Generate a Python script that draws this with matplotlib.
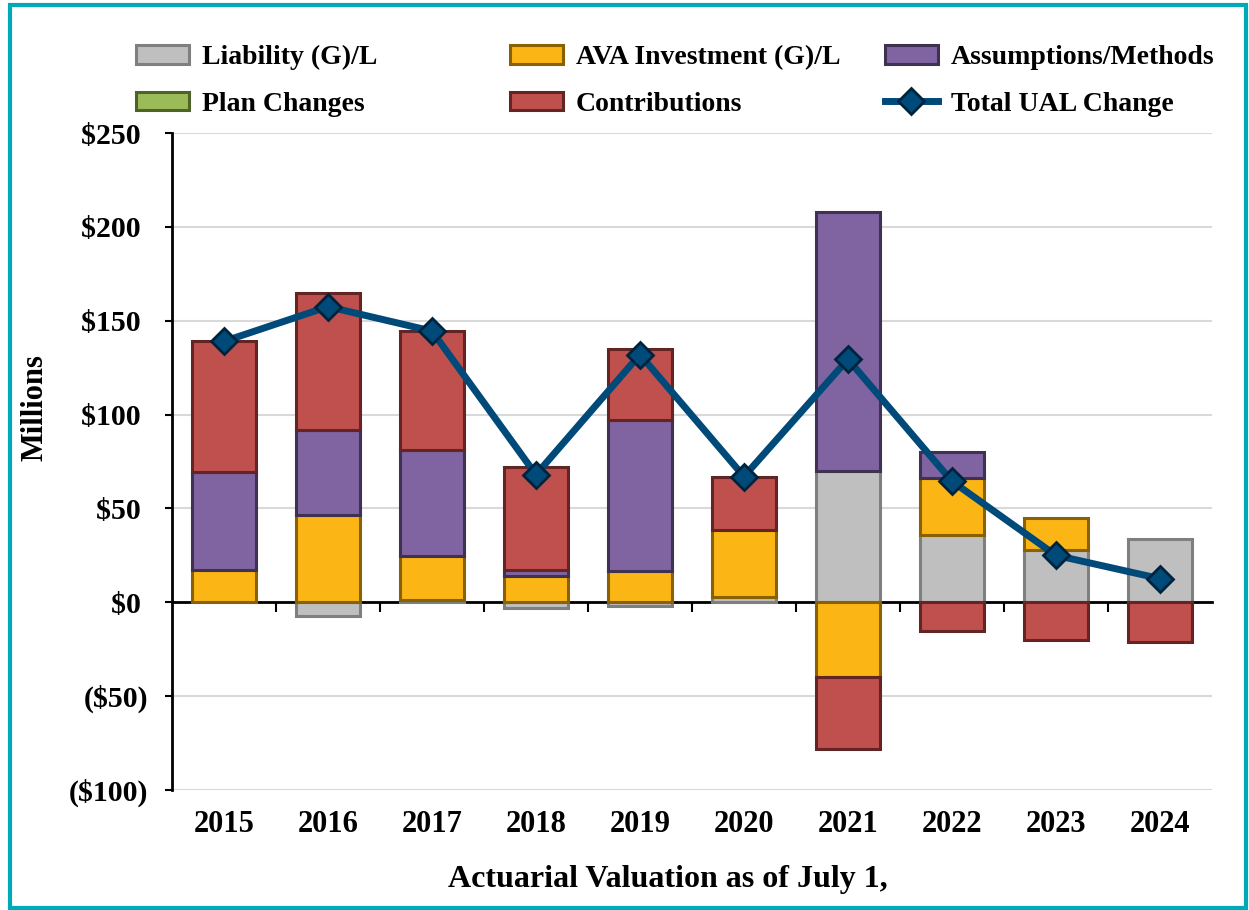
import matplotlib.pyplot as plt
import numpy as np
from matplotlib.patches import Rectangle
from matplotlib.lines import Line2D
from matplotlib.ticker import FuncFormatter

plt.rcParams['font.family'] = 'Liberation Serif'
plt.rcParams['font.weight'] = 'bold'

years = ['2015', '2016', '2017', '2018', '2019', '2020', '2021', '2022', '2023', '2024']
liability = [0.0, -7.5, 1.0, -3.0, -2.0, 3.0, 70.0, 35.7, 27.7, 33.6]
ava_invest = [17.0, 46.5, 23.5, 14.0, 16.5, 35.5, -40.0, 30.3, 17.3, 0.0]
assumptions = [52.5, 45.5, 56.5, 3.0, 80.5, 0.0, 138.0, 14.0, 0.0, 0.0]
plan_changes = [0.0] * 10
contributions = [69.5, 73.0, 63.5, 55.0, 38.0, 28.5, -38.0, -15.5, -20.0, -21.0]
total_ual = [139.0, 157.5, 144.5, 68.0, 132.0, 67.0, 129.5, 64.5, 25.0, 12.6]

series = [
    ('Liability (G)/L', liability, '#BFBFBF', '#7F7F7F'),
    ('AVA Investment (G)/L', ava_invest, '#FBB615', '#8A6100'),
    ('Assumptions/Methods', assumptions, '#8064A2', '#3F3151'),
    ('Plan Changes', plan_changes, '#9BBB59', '#4F6228'),
    ('Contributions', contributions, '#C0504D', '#632523'),
]
line_col = '#004A7A'
line_edge = '#00233D'

fig = plt.figure(figsize=(12.49, 9.10), dpi=100)
ax = fig.add_axes([0.1377, 0.1319, 0.8326, 0.7219])

x = np.arange(len(years))
pos_base = np.zeros(len(years))
neg_base = np.zeros(len(years))
handles = {}
for name, vals, fc, ec in series:
    vals = np.array(vals)
    base = np.where(vals >= 0, pos_base, neg_base)
    nz = vals != 0
    ax.bar(x[nz], vals[nz], 0.62, bottom=base[nz], color=fc, edgecolor=ec,
           linewidth=2.2, zorder=3)
    pos_base += np.where(vals >= 0, vals, 0)
    neg_base += np.where(vals < 0, vals, 0)
    handles[name] = Rectangle((0, 0), 1, 1, facecolor=fc, edgecolor=ec, linewidth=2.2)

ax.plot(x, total_ual, color=line_col, linewidth=5, marker='D', markersize=13,
        markerfacecolor=line_col, markeredgecolor=line_edge, markeredgewidth=2, zorder=5)
handles['Total UAL Change'] = Line2D([], [], color=line_col, linewidth=5, marker='D',
                                     markersize=13, markerfacecolor=line_col,
                                     markeredgecolor=line_edge, markeredgewidth=2)

ax.set_xlim(-0.5, len(years) - 0.5)
ax.set_ylim(-100, 250)
ax.set_yticks(np.arange(-100, 251, 50))
ax.yaxis.set_major_formatter(FuncFormatter(lambda v, p: f'${v:.0f}\u00a0' if v >= 0 else f'(${-v:.0f})'))
ax.tick_params(axis='y', labelsize=21.5, length=5, width=1.5, pad=12)
ax.grid(axis='y', color='#D9D9D9', linewidth=1.5, zorder=0)

ax.spines['top'].set_visible(False)
ax.spines['right'].set_visible(False)
ax.spines['bottom'].set_position(('data', 0))
ax.spines['bottom'].set_linewidth(2)
ax.spines['left'].set_linewidth(2)
ax.set_xticks(np.arange(0.5, len(years) - 0.5, 1))
ax.set_xticklabels([])
ax.tick_params(axis='x', length=7, width=1.5, direction='out')
for i, yr in enumerate(years):
    ax.text(i, -0.053, yr, transform=ax.get_xaxis_transform(), ha='center', va='center',
            fontsize=22, fontweight='bold')

fig.text(35 / 1249, 1 - 408 / 910, 'Millions', rotation=90, ha='center', va='center',
         fontsize=22, fontweight='bold')
fig.text(668 / 1249, 1 - 879 / 910, 'Actuarial Valuation as of July 1,', ha='center',
         va='center', fontsize=23, fontweight='bold')

columns = [
    (['Liability (G)/L', 'Plan Changes'], 136),
    (['AVA Investment (G)/L', 'Contributions'], 510),
    (['Assumptions/Methods', 'Total UAL Change'], 885),
]
for labels, xpos in columns:
    fig.legend([handles[k] for k in labels], labels, loc='center left',
               bbox_to_anchor=(xpos / 1249, 1 - 81 / 910), frameon=False, fontsize=20,
               handlelength=1.9, handleheight=0.65, labelspacing=0.78, handletextpad=0.47,
               borderpad=0, borderaxespad=0)

fig.patches.append(Rectangle((10 / 1249, 2 / 910), 1236 / 1249, 903 / 910,
                             transform=fig.transFigure, fill=False, edgecolor='#00A9B7',
                             linewidth=3))

fig.savefig('out.png', dpi=100)
